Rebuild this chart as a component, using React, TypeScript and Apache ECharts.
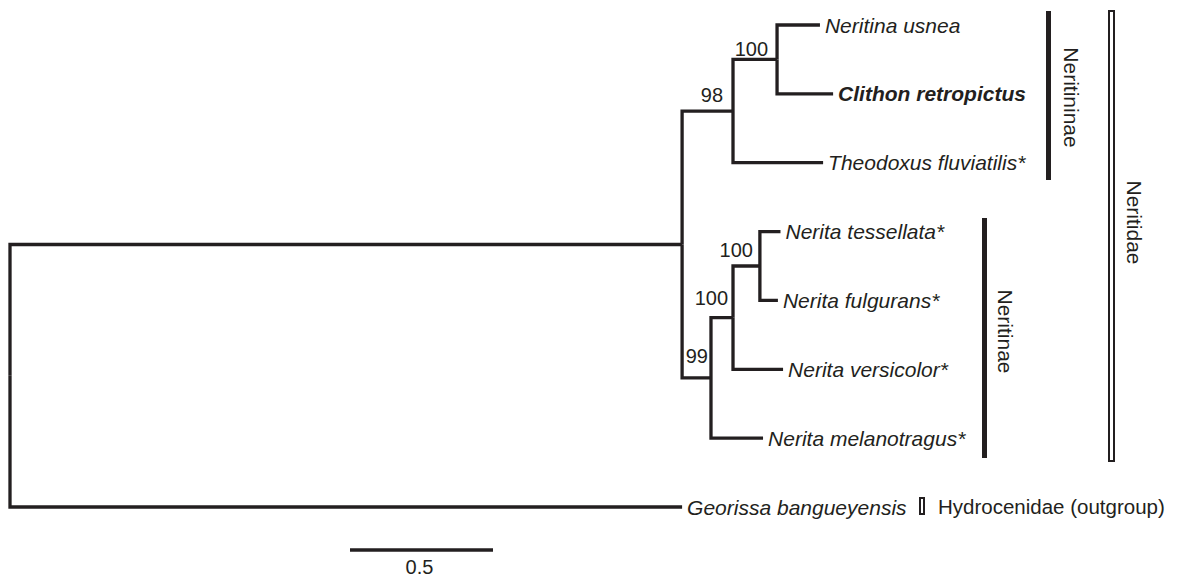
import React, { useEffect, useRef } from "react";
import * as echarts from "echarts";

// ---- Tree data (branch lengths in substitutions/site) ----
const nodeNames = [
  "root",
  "Neritidae",
  "Neritininae",
  "usnea+retropictus",
  "Neritina usnea",
  "Clithon retropictus",
  "Theodoxus fluviatilis*",
  "Nerita",
  "Nerita core",
  "tessellata+fulgurans",
  "Nerita tessellata*",
  "Nerita fulgurans*",
  "Nerita versicolor*",
  "Nerita melanotragus*",
  "Georissa bangueyensis",
];
const nodeParents = [-1, 0, 1, 2, 3, 3, 2, 1, 7, 8, 9, 9, 8, 7, 0];
const branchLengths = [0, 2.35, 0.178, 0.154, 0.15, 0.196, 0.315, 0.101, 0.077, 0.094, 0.072, 0.063, 0.175, 0.182, 2.35];
const supportValues: (number | null)[] = [null, null, 98, 100, null, null, null, 99, 100, 100, null, null, null, null, null];
const boldTips = ["Clithon retropictus"];
const cladeLabels = ["Neritininae", "Neritinae", "Neritidae", "Hydrocenidae (outgroup)"];
const scaleBarLength = 0.5;
const scaleBarLabel = "0.5";

// label offsets (px) for support values, relative to their node (right edge, vertical centre)
const supportOffsets: Record<string, [number, number]> = {
  Neritininae: [-10, -16],
  "usnea+retropictus": [-9, -10],
  Nerita: [-3, -22],
  "Nerita core": [-5, -20],
  "tessellata+fulgurans": [-7, -16],
};

const INK = "#231f20";
const FONT = "'Liberation Sans', Arial, Helvetica, sans-serif";

function layoutTree() {
  const n = nodeNames.length;
  const children: number[][] = nodeNames.map(() => []);
  nodeParents.forEach((p, i) => {
    if (p >= 0) children[p].push(i);
  });
  const depth = new Array(n).fill(0);
  const yPos = new Array(n).fill(0);
  let tip = 0;
  const visit = (i: number, d: number) => {
    depth[i] = d;
    if (children[i].length === 0) {
      yPos[i] = tip++;
      return;
    }
    children[i].forEach((c) => visit(c, d + branchLengths[c]));
    const ys = children[i].map((c) => yPos[c]);
    yPos[i] = (Math.min(...ys) + Math.max(...ys)) / 2;
  };
  visit(0, 0);
  return { children, depth, yPos };
}

export default function App() {
  const ref = useRef<HTMLDivElement>(null);

  useEffect(() => {
    if (!ref.current) return;
    const chart = echarts.init(ref.current, null, { renderer: "svg" });
    const { children, depth, yPos } = layoutTree();

    const branchData: any[] = [];
    nodeParents.forEach((p, i) => {
      if (p < 0) return;
      branchData.push({
        coords: [
          [depth[p], yPos[p]],
          [depth[p], yPos[i]],
          [depth[i], yPos[i]],
        ],
      });
    });

    const pxPerUnit = 286;
    const tipSpacing = 482 / 7;

    chart.setOption({
      animation: false,
      backgroundColor: "#ffffff",
      grid: { left: 0, top: 0, width: 1177, height: 578, containLabel: false },
      xAxis: { type: "value", min: -10 / pxPerUnit, max: 1167 / pxPerUnit, show: false },
      yAxis: { type: "value", inverse: true, min: -25 / tipSpacing, max: 553 / tipSpacing, show: false },
      series: [
        {
          type: "lines",
          coordinateSystem: "cartesian2d",
          polyline: true,
          silent: true,
          lineStyle: { color: INK, width: 3.3, opacity: 1, cap: "butt", join: "miter" },
          data: branchData,
        },
      ],
    });

    const toPx = (x: number, y: number) => chart.convertToPixel({ gridIndex: 0 }, [x, y]) as number[];

    const textEl = (text: string, x: number, y: number, font: string, align: string, rot = 0) => ({
      type: "text",
      x,
      y,
      rotation: rot,
      silent: true,
      style: {
        text,
        x: 0,
        y: 0,
        fill: INK,
        font,
        align,
        verticalAlign: "middle",
        textAlign: align,
        textVerticalAlign: "middle",
      },
    });

    const labelEls: any[] = [];
    nodeNames.forEach((name, i) => {
      const [px, py] = toPx(depth[i], yPos[i]);
      if (children[i].length === 0) {
        const bold = boldTips.includes(name);
        labelEls.push(
          textEl(name, px + 5, py, `italic ${bold ? "bold " : ""}21px ${FONT}`, "left")
        );
      }
      if (supportValues[i] != null) {
        const off = supportOffsets[name] || [0, 0];
        labelEls.push(textEl(String(supportValues[i]), px + off[0], py + off[1], `20px ${FONT}`, "right"));
      }
    });

    const p0 = toPx(0, 0);
    const p1 = toPx(scaleBarLength, 0);
    const barW = p1[0] - p0[0];
    const barX = 350;

    chart.setOption({
      graphic: [
        ...labelEls,
        { type: "rect", silent: true, shape: { x: 1046, y: 11, width: 5, height: 169 }, style: { fill: INK } },
        { type: "rect", silent: true, shape: { x: 982, y: 218, width: 5, height: 240 }, style: { fill: INK } },
        {
          type: "rect",
          silent: true,
          shape: { x: 1109, y: 11, width: 5, height: 450 },
          style: { fill: "#ffffff", stroke: INK, lineWidth: 2 },
        },
        {
          type: "rect",
          silent: true,
          shape: { x: 920, y: 498, width: 4, height: 16 },
          style: { fill: "#ffffff", stroke: INK, lineWidth: 2 },
        },
        textEl(cladeLabels[0], 1071.5, 97.5, `21px ${FONT}`, "center", -Math.PI / 2),
        textEl(cladeLabels[1], 1005.5, 331.5, `21px ${FONT}`, "center", -Math.PI / 2),
        textEl(cladeLabels[2], 1134, 222.5, `21px ${FONT}`, "center", -Math.PI / 2),
        textEl(cladeLabels[3], 938, 506, `20.5px ${FONT}`, "left"),
        {
          type: "line",
          silent: true,
          shape: { x1: barX, y1: 550, x2: barX + barW, y2: 550 },
          style: { stroke: INK, lineWidth: 3.5 },
        },
        textEl(scaleBarLabel, 419.5, 567, `20px ${FONT}`, "center"),
      ],
    });

    return () => chart.dispose();
  }, []);

  return <div ref={ref} style={{ position: "fixed", left: 0, top: 0, width: 1177, height: 578 }} />;
}
